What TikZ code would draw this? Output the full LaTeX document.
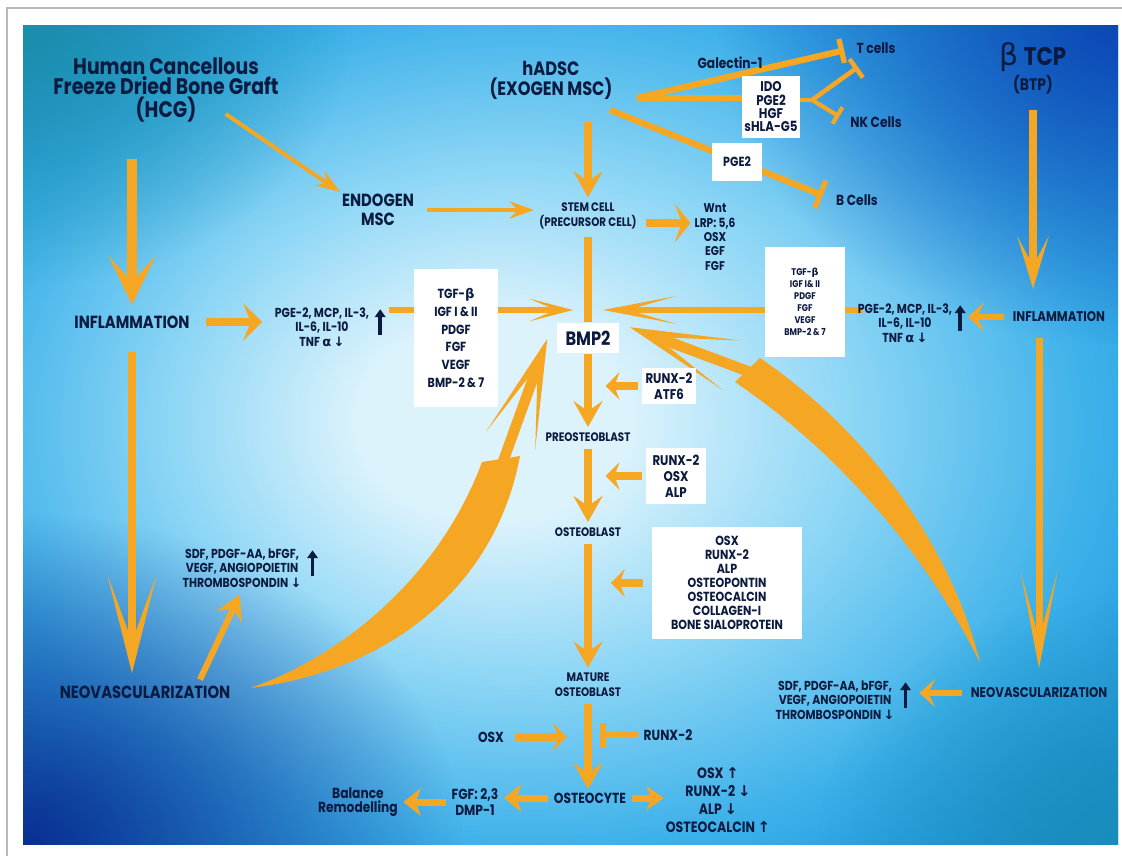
\documentclass[tikz,border=0pt]{standalone}
\usepackage{fontspec}
\setmainfont{Poppins}[FakeStretch=0.84]
\newfontfamily\glyphfont{DejaVu Sans}
\usetikzlibrary{arrows.meta,fadings}

\definecolor{ink}{HTML}{0B1A3F}
\definecolor{amber}{HTML}{F5A623}
\definecolor{bglight}{HTML}{DDF3FC}
\definecolor{bgsoft}{HTML}{92D8F6}
\definecolor{bgmid}{HTML}{3BB0E9}
\definecolor{bgdeep}{HTML}{178BD4}
\definecolor{bgteal}{HTML}{1B8EAB}
\definecolor{bgnavy}{HTML}{0A2F92}
\definecolor{bgroyal}{HTML}{0D47B6}

\pgfdeclarelayer{back}
\pgfdeclarelayer{links}
\pgfsetlayers{back,links,main}

\pgfdeclareradialshading{bgglow}{\pgfpoint{-4bp}{1bp}}{%
  color(0bp)=(bglight); color(6bp)=(bglight); color(15bp)=(bgsoft);
  color(26bp)=(bgmid); color(36bp)=(bgdeep); color(50bp)=(bgdeep)}
\tikzfading[name=glowfade, inner color=transparent!0, outer color=transparent!100]

\newcommand\upa{{\glyphfont\bfseries ↑}}
\newcommand\dna{{\glyphfont\bfseries ↓}}
\newcommand\grk[1]{{\glyphfont #1}}

\begin{document}
\begin{tikzpicture}[
    x=0.02cm, y=-0.02cm,
    title/.style={text=ink, align=center, inner sep=1pt, font=\fontsize{12.8}{11.4}\selectfont\bfseries},
    head/.style={text=ink, align=center, inner sep=1pt, font=\fontsize{11}{11.4}\selectfont\bfseries},
    stage/.style={text=ink, align=center, inner sep=1pt, font=\fontsize{10}{11}\selectfont\bfseries},
    stager/.style={text=ink, align=center, inner sep=1pt, font=\fontsize{8}{9}\selectfont\bfseries},
    cell/.style={text=ink, align=center, inner sep=1pt, font=\fontsize{7}{8.5}\selectfont\bfseries},
    note/.style={text=ink, align=center, inner sep=1pt, font=\fontsize{8.3}{8.6}\selectfont\bfseries},
    fine/.style={text=ink, align=center, inner sep=1pt, font=\fontsize{7.4}{8.4}\selectfont\bfseries},
    tag/.style={text=ink, align=center, inner sep=1pt, font=\fontsize{8.3}{9}\selectfont\bfseries},
    box/.style={fill=white, text=ink, align=center, inner sep=0pt},
    flow/.style={draw=amber, line width=4.2pt, -{Stealth[length=15pt, width=17pt, inset=6pt, line width=0pt]}},
    feed/.style={draw=amber, line width=4pt, -{Stealth[length=8pt, width=16pt, inset=3pt, line width=0pt]}},
    thin/.style={draw=amber, line width=2.6pt, -{Stealth[length=14pt, width=10pt, inset=5pt, line width=0pt]}},
    block/.style={draw=amber, line width=3.4pt, -{Bar[width=14pt, line width=3pt]}},
    tallup/.style={draw=ink, line width=2.2pt, -{Triangle[length=4.5pt, width=6pt]}}
]
    \useasboundingbox (0,0) rectangle (1122,856);

    % 背景
    \begin{pgfonlayer}{back}
        \fill[white] (0,0) rectangle (1122,856);
        \draw[gray!55, line width=1.2pt] (1122,8) -- (7,8) -- (7,856);
        \begin{scope}
            \clip (23,25) rectangle (1118,844);
            \shade[shading=bgglow] (23,25) rectangle (1118,844);
            \fill[bgteal, path fading=glowfade] (23,25) ellipse (330 and 260);
            \fill[bgroyal, path fading=glowfade] (1118,25) ellipse (400 and 320);
            \fill[bgnavy, path fading=glowfade] (23,844) ellipse (440 and 330);
            \fill[bgteal!60!bgdeep, path fading=glowfade] (1118,844) ellipse (300 and 250);
        \end{scope}
    \end{pgfonlayer}

    % 标题节点
    \node[title] (hcg) at (166, 90) {Human Cancellous\\Freeze Dried Bone Graft\\(HCG)};
    \node[head] (hadsc) at (551, 80) {hADSC\\(EXOGEN MSC)};
    \node[text=ink, align=center, inner sep=1pt] (btcp) at (1033, 68)
        {{\fontsize{17}{17}\selectfont\grk{β}\,}{\fontsize{14.5}{15}\selectfont\bfseries TCP}\\[1pt]
         {\fontsize{9.5}{10}\selectfont\bfseries (BTP)}};

    % 左列
    \node[stage] (inflL) at (132, 322) {INFLAMMATION};
    \node[stage] (neoL) at (145, 692) {NEOVASCULARIZATION};
    \node[stage] (endo) at (378, 210) {ENDOGEN\\MSC};
    \node[fine] (pgeL) at (322, 327) {PGE-2, MCP, IL-3,\\IL-6, IL-10\\TNF \grk{α} \dna};
    \node[box, minimum width=47.6pt, minimum height=78.8pt, font=\fontsize{7.5}{10.2}\selectfont\bfseries]
        (tgfL) at (456, 338) {TGF-\grk{β}\\IGF I \& II\\PDGF\\FGF\\VEGF\\BMP-2 \& 7};
    \node[fine] (sdfL) at (242, 568) {SDF, PDGF-AA, bFGF,\\VEGF, ANGIOPOIETIN\\THROMBOSPONDIN \dna};

    % 中列
    \node[cell] (stem) at (588, 216) {STEM CELL\\(PRECURSOR CELL)};
    \node[box, minimum width=35.7pt, minimum height=17.6pt, font=\fontsize{11}{12}\selectfont\bfseries]
        (bmp) at (588, 338) {BMP2};
    \node[cell] (preo) at (588, 437) {PREOSTEOBLAST};
    \node[cell] (osteob) at (588, 532) {OSTEOBLAST};
    \node[cell] (mature) at (588, 685) {MATURE\\OSTEOBLAST};
    \node[note] (osteocyte) at (590, 798) {OSTEOCYTE};
    \node[fine, font=\fontsize{7.2}{8.2}\selectfont\bfseries] (wnt) at (715, 237) {Wnt\\LRP: 5,6\\OSX\\EGF\\FGF};
    \node[box, minimum width=31.2pt, minimum height=21pt, font=\fontsize{8}{9}\selectfont\bfseries]
        (runxA) at (669, 386) {RUNX-2\\ATF6};
    \node[box, minimum width=34pt, minimum height=32.3pt, font=\fontsize{8}{9}\selectfont\bfseries]
        (runxB) at (676, 476) {RUNX-2\\OSX\\ALP};
    \node[box, minimum width=85.6pt, minimum height=64pt, font=\fontsize{7.5}{8}\selectfont\bfseries]
        (markers) at (727, 583) {OSX\\RUNX-2\\ALP\\OSTEOPONTIN\\OSTEOCALCIN\\COLLAGEN-I\\BONE SIALOPROTEIN};
    \node[note] (runxC) at (668, 735) {RUNX-2};
    \node[note] (osxIn) at (491, 737) {OSX};
    \node[note, font=\fontsize{8.5}{10.2}\selectfont\bfseries] (late) at (718, 800)
        {OSX \upa\\RUNX-2 \dna\\ALP \dna\\OSTEOCALCIN \upa};
    \node[note] (fgf) at (475, 802) {FGF: 2,3\\DMP-1};
    \node[note, font=\fontsize{8.3}{8}\selectfont\bfseries] (balance) at (358, 802) {Balance\\Remodelling};

    % 右上 (免疫抑制)
    \node[tag] (galectin) at (730, 63) {Galectin-1};
    \node[tag] (tcell) at (876, 48) {T cells};
    \node[box, minimum width=32.9pt, minimum height=35.7pt, font=\fontsize{8}{7.6}\selectfont\bfseries]
        (ido) at (771, 107) {IDO\\PGE2\\HGF\\sHLA-G5};
    \node[tag] (nk) at (876, 122) {NK Cells};
    \node[box, minimum width=28.9pt, minimum height=22.1pt, font=\fontsize{7.5}{8}\selectfont\bfseries]
        (pgebox) at (737, 162) {PGE2};
    \node[tag] (bcell) at (857, 200) {B Cells};

    % 右列
    \node[stager] (inflR) at (1059, 317) {INFLAMMATION};
    \node[stager] (neoR) at (1039, 693) {NEOVASCULARIZATION};
    \node[fine] (pgeR) at (905, 323) {PGE-2, MCP, IL-3,\\IL-6, IL-10\\TNF \grk{α} \dna};
    \node[box, minimum width=45.9pt, minimum height=63pt, font=\fontsize{5.5}{6.8}\selectfont\bfseries]
        (tgfR) at (805, 302) {TGF-\grk{β}\\IGF I\& II\\PDGF\\FGF\\VEGF\\BMP-2 \& 7};
    \node[fine] (sdfR) at (835, 700) {SDF, PDGF-AA, bFGF,\\VEGF, ANGIOPOIETIN\\THROMBOSPONDIN \dna};

    \coordinate (hub) at (588, 310);
    \coordinate (hadscR) at (637, 98);
    \coordinate (hadscB) at (610, 110);
    \coordinate (fork) at (812, 100);
    \coordinate (lcS) at ([shift={(18,-4)}]neoL.east);
    \coordinate (lcT) at ([shift={(-9,-15)}]bmp.south west);
    \coordinate (rcS) at ([shift={(-59,-23)}]neoR.north);
    \coordinate (rcT) at ([shift={(10,5)}]bmp.north east);

    \begin{pgfonlayer}{links}
        % 1. 大的竖直箭头
        \draw[draw=amber, line width=5.7pt, -{Stealth[length=28pt, width=27pt, inset=15pt, line width=0pt]}, shorten <=20pt, shorten >=5pt]
            (inflL |- hcg.south) -- (inflL);
        \draw[draw=amber, line width=4.5pt, -{Stealth[length=30pt, width=18pt, inset=17pt, line width=0pt]}, shorten <=8pt, shorten >=12pt]
            (btcp) -- (btcp |- inflR.north);
        \draw[draw=amber, line width=4.5pt, -{Stealth[length=56pt, width=28pt, inset=38pt, line width=0pt]}, shorten <=12pt, shorten >=6pt]
            (inflL) -- (inflL |- neoL.north);
        \draw[draw=amber, line width=4pt, -{Stealth[length=55pt, width=21pt, inset=38pt, line width=0pt]}, shorten <=8pt, shorten >=10pt]
            (neoR |- inflR.south) -- (neoR);

        % 2. 中列
        \draw[flow, shorten <=12pt, shorten >=2pt] (stem |- hadsc.south) -- (stem);
        \draw[draw=amber, line width=4.2pt, shorten <=3pt] (stem) -- (bmp);
        \draw[flow, shorten >=2pt] (bmp) -- (preo);
        \draw[flow, shorten <=3pt, shorten >=2pt] (preo) -- (osteob);
        \draw[flow, shorten <=3pt, shorten >=2pt] (osteob) -- (mature);
        \draw[flow, shorten <=3pt, shorten >=1pt] (mature) -- (mature |- osteocyte.north);
        \draw[thin, shorten <=6pt, shorten >=2pt] (endo.east) -- (endo.east -| stem.west);
        \draw[thin, line width=2.3pt] ([shift={(-55,-10)}]hcg.south east) -- (endo.north west);
        \draw[draw=amber, line width=4.5pt, -{Stealth[length=9pt, width=22pt, inset=4pt, line width=0pt]}, shorten <=4pt]
            ([shift={(0,7)}]stem.east) -- ([shift={(-2,-14)}]wnt.west);

        % 3. 侧向输入
        \draw[feed, shorten <=2pt, shorten >=10pt] (runxA.west) -- (runxA.west -| bmp);
        \draw[feed, shorten <=2pt, shorten >=10pt] (runxB.west) -- (runxB.west -| preo);
        \draw[feed, shorten <=5pt, shorten >=13pt] (markers.west) -- (markers.west -| osteob);
        \draw[block, shorten <=2pt, shorten >=7pt] (runxC.west) -- (runxC.west -| mature);
        \draw[feed, shorten <=5pt, shorten >=12pt] (osxIn.east) -- (osxIn.east -| mature);
        \draw[feed, -{Stealth[length=10pt, width=14pt, inset=3pt, line width=0pt]}, shorten <=2pt] (osteocyte.east) -- (late.west |- osteocyte.east);
        \draw[feed, -{Stealth[length=10pt, width=16pt, inset=3pt, line width=0pt]}, shorten <=2pt, shorten >=2pt] (osteocyte.west) -- (fgf.east |- osteocyte.west);
        \draw[feed, -{Stealth[length=10pt, width=16pt, inset=3pt, line width=0pt]}, shorten <=2pt, shorten >=2pt] (fgf.west) -- (balance.east |- fgf.west);

        % 4. 炎症 -> 因子
        \draw[draw=amber, line width=4pt, -{Stealth[length=11pt, width=21.5pt, inset=4.5pt, line width=0pt]}, shorten <=8pt]
            (inflL.east) -- ([xshift=-6pt]pgeL.west |- inflL.east);
        \draw[draw=amber, line width=3.5pt, -{Stealth[length=9pt, width=17pt, inset=4pt, line width=0pt]}, shorten <=4pt]
            (inflR.west) -- ([xshift=8pt]pgeR.east |- inflR.west);
        \draw[draw=amber, line width=3.5pt, -{Stealth[length=14pt, width=16pt, inset=5pt, line width=0pt]}, shorten >=3pt]
            ([shift={(55,-4)}]neoL.north) -- (sdfL.south);
        \draw[draw=amber, line width=3.5pt, -{Stealth[length=9pt, width=16pt, inset=4pt, line width=0pt]}, shorten <=4pt]
            (neoR.west) -- ([xshift=13pt]sdfR.east |- neoR.west);

        % 5. 生长因子 -> BMP2
        \draw[draw=amber, line width=3pt, -{Stealth[length=25pt, width=13pt, inset=15pt, line width=0pt]}, shorten <=10pt, shorten >=8.5pt]
            (pgeL.east |- hub) -- (hub);
        \draw[draw=amber, line width=3.5pt, -{Stealth[length=42pt, width=16pt, inset=28pt, line width=0pt]}, shorten <=-4pt, shorten >=8.5pt]
            (pgeR.west |- hub) -- (hub);

        % 6. 免疫抑制
        \draw[block, line width=3.6pt, shorten >=6pt] (hadscR) -- (tcell.west);
        \draw[draw=amber, line width=3.6pt] (hadscR) -- (ido.west |- hadscR);
        \draw[draw=amber, line width=2.6pt] (ido.east |- fork) -- (fork);
        \draw[block, line width=2.6pt, -{Bar[width=13pt, line width=2.6pt]}] (fork) -- ([shift={(-18,19)}]tcell.center);
        \draw[block, line width=2.4pt, -{Bar[width=11pt, line width=2.4pt]}, shorten >=6pt] (fork) -- (nk.west);
        \draw[block, line width=3.6pt, -{Bar[width=17pt, line width=3pt]}, shorten >=7pt] (hadscB) -- (bcell.west);

        % 7. 弯曲大箭头
        \fill[amber] (lcS) .. controls (345,655) and (440,575) .. (482,462)
            -- (520,456) .. controls (495,590) and (385,672) .. (lcS) -- cycle;
        \draw[amber, line width=6pt, -{Stealth[length=62pt, width=30pt, inset=46pt, line width=0pt]}] (500,470) -- (lcT);
        \fill[amber] (rcS) .. controls (955,560) and (880,440) .. (760,358)
            -- (735,382) .. controls (850,460) and (935,570) .. (rcS) -- cycle;
        \draw[amber, line width=6pt, -{Stealth[length=62pt, width=30pt, inset=46pt, line width=0pt]}] (750,372) -- (rcT);
    \end{pgfonlayer}

    % 高低箭头
    \draw[tallup] ([shift={(9,30)}]pgeL.north east) -- ++(0,-26);
    \draw[tallup] ([shift={(9,30)}]sdfL.north east) -- ++(0,-26);
    \draw[tallup] ([shift={(6,30)}]pgeR.north east) -- ++(0,-26);
    \draw[tallup] ([shift={(9,30)}]sdfR.north east) -- ++(0,-26);

\end{tikzpicture}
\end{document}
